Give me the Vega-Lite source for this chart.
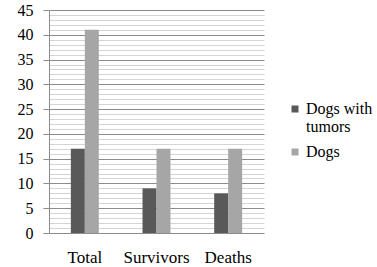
{
  "$schema": "https://vega.github.io/schema/vega-lite/v6.json",
  "width": 215,
  "height": 223,
  "autosize": {"type": "none"},
  "padding": {"left": 49, "top": 10, "right": 113, "bottom": 34},
  "background": "white",
  "data": {
    "values": [
      {"category": "Total", "series": "Dogs with tumors", "value": 17},
      {"category": "Total", "series": "Dogs", "value": 41},
      {"category": "Survivors", "series": "Dogs with tumors", "value": 9},
      {"category": "Survivors", "series": "Dogs", "value": 17},
      {"category": "Deaths", "series": "Dogs with tumors", "value": 8},
      {"category": "Deaths", "series": "Dogs", "value": 17}
    ]
  },
  "config": {
    "view": {"stroke": null},
    "font": "Liberation Serif"
  },
  "mark": {"type": "bar"},
  "encoding": {
    "x": {
      "field": "category",
      "type": "nominal",
      "sort": ["Total", "Survivors", "Deaths"],
      "scale": {"paddingInner": 0.61, "paddingOuter": 0.305},
      "axis": {
        "title": null,
        "labelAngle": 0,
        "ticks": false,
        "domain": false,
        "labelPadding": 16,
        "labelFont": "Liberation Serif",
        "labelFontSize": 17,
        "labelColor": "#000000"
      }
    },
    "xOffset": {
      "field": "series",
      "type": "nominal",
      "sort": ["Dogs with tumors", "Dogs"],
      "scale": {"paddingInner": 0, "paddingOuter": 0}
    },
    "y": {
      "field": "value",
      "type": "quantitative",
      "scale": {"domain": [0, 45], "nice": false},
      "axis": {
        "title": null,
        "values": [0,1,2,3,4,5,6,7,8,9,10,11,12,13,14,15,16,17,18,19,20,21,22,23,24,25,26,27,28,29,30,31,32,33,34,35,36,37,38,39,40,41,42,43,44,45],
        "labelExpr": "datum.value % 5 === 0 ? datum.label : ''",
        "grid": true,
        "gridColor": {"condition": {"test": "datum.value % 5 === 0", "value": "#8c8c8c"}, "value": "#d4d4d4"},
        "gridWidth": 1,
        "tickColor": "#8c8c8c",
        "tickOpacity": {"condition": {"test": "datum.value % 5 === 0", "value": 1}, "value": 0},
        "tickSize": 6,
        "domainColor": "#8c8c8c",
        "labelFont": "Liberation Serif",
        "labelFontSize": 16,
        "labelColor": "#000000",
        "labelPadding": 10
      }
    },
    "color": {
      "field": "series",
      "type": "nominal",
      "sort": ["Dogs with tumors", "Dogs"],
      "scale": {"domain": ["Dogs with tumors", "Dogs"], "range": ["#595959", "#a6a6a6"]},
      "legend": {
        "title": null,
        "orient": "none",
        "legendX": 238,
        "legendY": 91,
        "symbolType": "square",
        "symbolSize": 49,
        "symbolStrokeWidth": 0,
        "labelFont": "Liberation Serif",
        "labelFontSize": 16,
        "labelColor": "#000000",
        "labelLimit": 200,
        "labelOffset": 3,
        "rowPadding": 9,
        "labelExpr": "datum.label == 'Dogs with tumors' ? ['Dogs with', 'tumors'] : datum.label"
      }
    }
  }
}
